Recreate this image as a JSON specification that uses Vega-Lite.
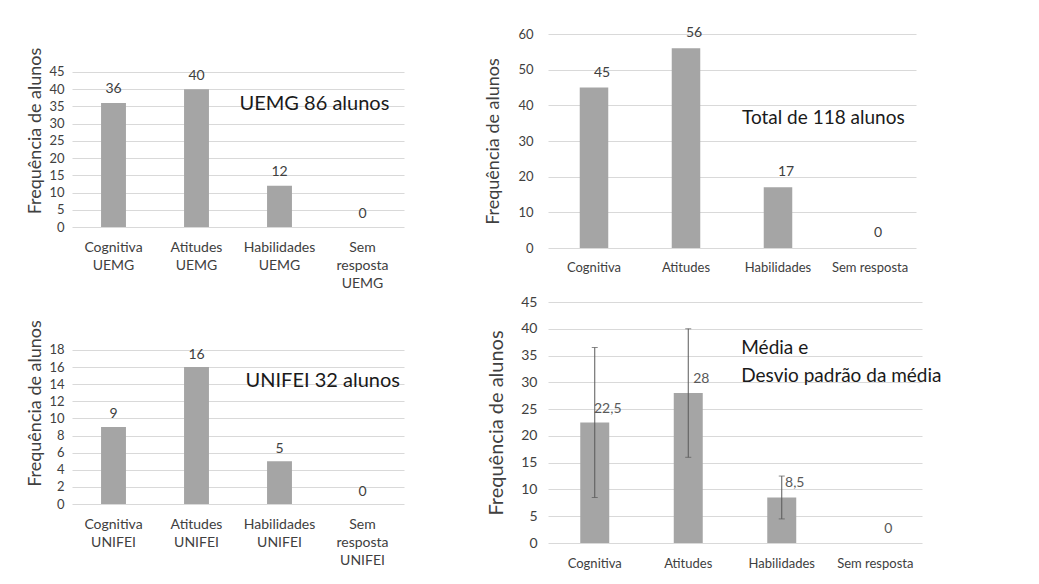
{
  "$schema": "https://vega.github.io/schema/vega-lite/v6.json",
  "background": "white",
  "padding": {"left": 26, "top": 26, "right": 0, "bottom": 0},
  "datasets": {
    "uemg": [
      {"categoria": "Cognitiva UEMG", "alunos": 36},
      {"categoria": "Atitudes UEMG", "alunos": 40},
      {"categoria": "Habilidades UEMG", "alunos": 12},
      {"categoria": "Sem resposta UEMG", "alunos": 0}
    ],
    "total": [
      {"categoria": "Cognitiva", "alunos": 45},
      {"categoria": "Atitudes", "alunos": 56},
      {"categoria": "Habilidades", "alunos": 17},
      {"categoria": "Sem resposta", "alunos": 0}
    ],
    "unifei": [
      {"categoria": "Cognitiva UNIFEI", "alunos": 9},
      {"categoria": "Atitudes UNIFEI", "alunos": 16},
      {"categoria": "Habilidades UNIFEI", "alunos": 5},
      {"categoria": "Sem resposta UNIFEI", "alunos": 0}
    ],
    "media": [
      {"categoria": "Cognitiva", "media": 22.5, "minimo": 8.5, "maximo": 36.5},
      {"categoria": "Atitudes", "media": 28, "minimo": 16, "maximo": 40},
      {"categoria": "Habilidades", "media": 8.5, "minimo": 4.5, "maximo": 12.5},
      {"categoria": "Sem resposta", "media": 0, "minimo": 0, "maximo": 0}
    ]
  },
  "columns": 2,
  "bounds": "flush",
  "spacing": {"row": 54, "column": 144},
  "concat": [
    {
      "width": 332,
      "height": 193,
      "data": {"name": "uemg"},
      "encoding": {
        "x": {"field": "categoria", "type": "nominal", "sort": null,
              "scale": {"paddingInner": 0.7, "paddingOuter": 0.35},
              "axis": {"title": null, "labelExpr": "split(datum.label, ' ')", "labelFontSize": 14, "labelLineHeight": 18, "labelPadding": 13}},
        "y": {"field": "alunos", "type": "quantitative",
              "scale": {"domain": [0, 56.03], "nice": false},
              "axis": {"values": [0, 5, 10, 15, 20, 25, 30, 35, 40, 45], "title": "Frequência de alunos", "titleFontSize": 18, "labelFontSize": 13, "labelPadding": 8, "titlePadding": 4}}
      },
      "layer": [
        {"mark": {"type": "bar", "color": "#a5a5a5"}},
        {"mark": {"type": "text", "dy": -13.5, "baseline": "middle", "fontSize": 14, "color": "#404040"},
         "encoding": {"text": {"field": "alunos", "type": "quantitative"}}},
        {"data": {"values": [{"nota": "UEMG 86 alunos", "categoria": "Habilidades UEMG", "alunos": 35.7}]},
         "mark": {"type": "text", "align": "left", "baseline": "middle", "dx": -40, "fontSize": 20, "color": "#1a1a1a"},
         "encoding": {"text": {"field": "nota", "type": "nominal"}}}
      ]
    },
    {
      "width": 368,
      "height": 214,
      "data": {"name": "total"},
      "encoding": {
        "x": {"field": "categoria", "type": "nominal", "sort": null,
              "scale": {"paddingInner": 0.69, "paddingOuter": 0.345},
              "axis": {"title": null, "labelFontSize": 13, "labelPadding": 13}},
        "y": {"field": "alunos", "type": "quantitative",
              "scale": {"domain": [0, 60], "nice": false},
              "axis": {"values": [0, 10, 20, 30, 40, 50, 60], "title": "Frequência de alunos", "titleFontSize": 18, "labelFontSize": 13, "labelPadding": 15, "titlePadding": 15}}
      },
      "layer": [
        {"mark": {"type": "bar", "color": "#a5a5a5"}},
        {"mark": {"type": "text", "dy": -15, "dx": 8, "baseline": "middle", "fontSize": 14, "color": "#404040"},
         "encoding": {"text": {"field": "alunos", "type": "quantitative"}}},
        {"data": {"values": [{"nota": "Total de 118 alunos", "categoria": "Habilidades", "alunos": 36.4}]},
         "mark": {"type": "text", "align": "left", "baseline": "middle", "dx": -36, "fontSize": 19, "color": "#1a1a1a"},
         "encoding": {"text": {"field": "nota", "type": "nominal"}}}
      ]
    },
    {
      "width": 332,
      "height": 202,
      "data": {"name": "unifei"},
      "encoding": {
        "x": {"field": "categoria", "type": "nominal", "sort": null,
              "scale": {"paddingInner": 0.7, "paddingOuter": 0.35},
              "axis": {"title": null, "labelExpr": "split(datum.label, ' ')", "labelFontSize": 14, "labelLineHeight": 18, "labelPadding": 13}},
        "y": {"field": "alunos", "type": "quantitative",
              "scale": {"domain": [0, 23.61], "nice": false},
              "axis": {"values": [0, 2, 4, 6, 8, 10, 12, 14, 16, 18], "title": "Frequência de alunos", "titleFontSize": 18, "labelFontSize": 13, "labelPadding": 8, "titlePadding": 4}}
      },
      "layer": [
        {"mark": {"type": "bar", "color": "#a5a5a5"}},
        {"mark": {"type": "text", "dy": -12.5, "baseline": "middle", "fontSize": 14, "color": "#404040"},
         "encoding": {"text": {"field": "alunos", "type": "quantitative"}}},
        {"data": {"values": [{"nota": "UNIFEI 32 alunos", "categoria": "Habilidades UNIFEI", "alunos": 14.4}]},
         "mark": {"type": "text", "align": "left", "baseline": "middle", "dx": -34, "fontSize": 20, "color": "#1a1a1a"},
         "encoding": {"text": {"field": "nota", "type": "nominal"}}}
      ]
    },
    {
      "width": 374,
      "height": 241,
      "data": {"name": "media"},
      "encoding": {
        "x": {"field": "categoria", "type": "nominal", "sort": null,
              "scale": {"paddingInner": 0.69, "paddingOuter": 0.345},
              "axis": {"title": null, "labelFontSize": 13, "labelPadding": 14}},
        "y": {"field": "media", "type": "quantitative",
              "scale": {"domain": [0, 45], "nice": false},
              "axis": {"values": [0, 5, 10, 15, 20, 25, 30, 35, 40, 45], "title": "Frequência de alunos", "titleFontSize": 20, "labelFontSize": 14, "labelPadding": 11, "titlePadding": 14}}
      },
      "layer": [
        {"mark": {"type": "bar", "color": "#a5a5a5"}},
        {"transform": [{"filter": "datum.maximo > datum.minimo"}],
         "mark": {"type": "errorbar", "color": "#595959", "thickness": 1, "ticks": {"size": 6, "color": "#595959"}},
         "encoding": {"y": {"field": "minimo", "type": "quantitative", "scale": {"domain": [0, 45], "nice": false},
              "axis": {"values": [0, 5, 10, 15, 20, 25, 30, 35, 40, 45], "title": "Frequência de alunos", "titleFontSize": 20, "labelFontSize": 14, "labelPadding": 11, "titlePadding": 14}},
                      "y2": {"field": "maximo"}}},
        {"mark": {"type": "text", "dy": -14, "dx": 13, "baseline": "middle", "fontSize": 14, "color": "#595959"},
         "encoding": {"text": {"field": "media", "type": "quantitative", "format": ".3~g"}}},
        {"data": {"values": [{"nota": "Média e|Desvio padrão da média", "categoria": "Habilidades", "media": 38.1}]},
         "mark": {"type": "text", "align": "left", "baseline": "top", "dx": -40.5, "fontSize": 19, "lineHeight": 28, "lineBreak": "|", "color": "#1a1a1a"},
         "encoding": {"text": {"field": "nota", "type": "nominal"}}}
      ]
    }
  ],
  "config": {
    "font": "Lato",
    "view": {"stroke": null},
    "locale": {"number": {"decimal": ",", "thousands": ".", "grouping": [3], "currency": ["R$", ""]}},
    "axis": {"gridColor": "#d9d9d9", "gridWidth": 1, "domain": false, "ticks": false, "tickSize": 0,
             "labelColor": "#404040", "titleColor": "#404040", "titleFontWeight": "normal"},
    "axisX": {"grid": false, "labelAngle": 0},
    "axisY": {"grid": true}
  }
}
